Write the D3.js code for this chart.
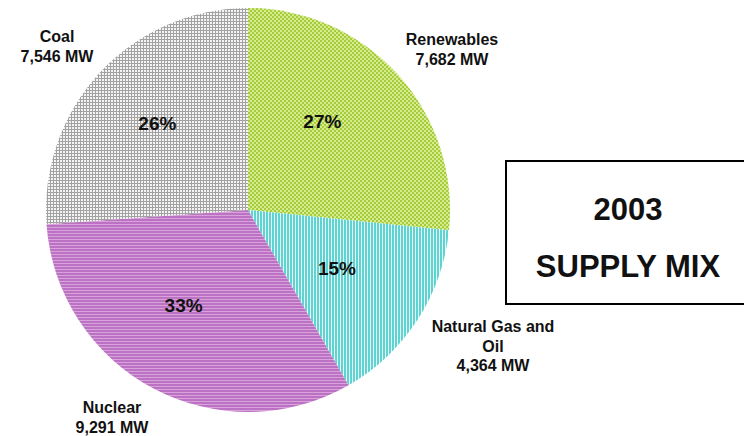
<!DOCTYPE html>
<html>
<head>
<meta charset="utf-8">
<script src="https://cdn.jsdelivr.net/npm/d3@7"></script>
<style>
  body { margin: 0; background: #fff; }
  svg text { font-family: Arial, "Liberation Sans", sans-serif; font-weight: bold; fill: #111; }
</style>
</head>
<body>
<div id="chart"></div>
<script>
// data
const categories = ["Renewables", "Natural Gas and Oil", "Nuclear", "Coal"];
const capacityMW = [7682, 4364, 9291, 7546];
const percentLabels = ["27%", "15%", "33%", "26%"];
const nameLines = [["Renewables"], ["Natural Gas and", "Oil"], ["Nuclear"], ["Coal"]];
const titleLines = ["2003", "SUPPLY MIX"];

const width = 744, height = 436;
const cx = 248, cy = 210, radius = 202;

// where the outside name labels sit (centre x, first baseline)
const outerLabelPos = [[452, 45], [493, 332], [112, 413], [57, 42]];
// small nudges for the percent labels (angle offset in degrees, radius)
const pctLayout = [[-8, 116], [0, 106], [6, 115], [1, 126]];

const svg = d3.select("#chart").append("svg")
    .attr("width", width)
    .attr("height", height);

const defs = svg.append("defs");

// coal: grey grid
const pCoal = defs.append("pattern").attr("id", "pat0").attr("patternUnits", "userSpaceOnUse")
    .attr("width", 3).attr("height", 3);
pCoal.append("rect").attr("width", 3).attr("height", 3).attr("fill", "#f4f4f4");
pCoal.append("rect").attr("width", 3).attr("height", 1).attr("fill", "#a2a2a2");
pCoal.append("rect").attr("width", 1).attr("height", 3).attr("fill", "#a2a2a2");

// renewables: green with light dots
const pRen = defs.append("pattern").attr("id", "pat1").attr("patternUnits", "userSpaceOnUse")
    .attr("width", 4).attr("height", 4);
pRen.append("rect").attr("width", 4).attr("height", 4).attr("fill", "#a4cc3c");
pRen.append("rect").attr("x", 0).attr("y", 0).attr("width", 2).attr("height", 2).attr("fill", "#d6ec8e");
pRen.append("rect").attr("x", 2).attr("y", 2).attr("width", 2).attr("height", 2).attr("fill", "#d6ec8e");

// gas: vertical cyan stripes
const pGas = defs.append("pattern").attr("id", "pat2").attr("patternUnits", "userSpaceOnUse")
    .attr("width", 3).attr("height", 3);
pGas.append("rect").attr("width", 3).attr("height", 3).attr("fill", "#e6fafa");
pGas.append("rect").attr("width", 2).attr("height", 3).attr("fill", "#5fd2d2");

// nuclear: horizontal purple stripes
const pNuc = defs.append("pattern").attr("id", "pat3").attr("patternUnits", "userSpaceOnUse")
    .attr("width", 3).attr("height", 3);
pNuc.append("rect").attr("width", 3).attr("height", 3).attr("fill", "#d9a2dc");
pNuc.append("rect").attr("width", 3).attr("height", 2).attr("fill", "#bc72c2");

const fills = ["url(#pat1)", "url(#pat2)", "url(#pat3)", "url(#pat0)"];

const pie = d3.pie().sort(null).value(d => d);
const arcs = pie(capacityMW);
const arc = d3.arc().innerRadius(0).outerRadius(radius);

const g = svg.append("g").attr("transform", `translate(${cx},${cy})`);

g.selectAll("path.slice")
    .data(arcs)
    .enter().append("path")
    .attr("class", "slice")
    .attr("d", arc)
    .attr("fill", (d, i) => fills[i]);

// percent labels
g.selectAll("text.pct")
    .data(arcs)
    .enter().append("text")
    .attr("class", "pct")
    .attr("text-anchor", "middle")
    .attr("font-size", 19)
    .attr("x", (d, i) => {
        const a = (d.startAngle + d.endAngle) / 2 + pctLayout[i][0] * Math.PI / 180;
        return Math.sin(a) * pctLayout[i][1];
    })
    .attr("y", (d, i) => {
        const a = (d.startAngle + d.endAngle) / 2 + pctLayout[i][0] * Math.PI / 180;
        return -Math.cos(a) * pctLayout[i][1] + 7;
    })
    .text((d, i) => percentLabels[i]);

// outside name + MW labels
categories.forEach((c, i) => {
    const lines = nameLines[i].concat([d3.format(",")(capacityMW[i]) + " MW"]);
    const t = svg.append("text")
        .attr("text-anchor", "middle")
        .attr("font-size", 16)
        .attr("x", outerLabelPos[i][0])
        .attr("y", outerLabelPos[i][1]);
    lines.forEach((l, j) => {
        t.append("tspan")
            .attr("x", outerLabelPos[i][0])
            .attr("dy", j === 0 ? 0 : 19.5)
            .text(l);
    });
});

// title box
svg.append("rect")
    .attr("x", 506).attr("y", 161)
    .attr("width", 250).attr("height", 143)
    .attr("fill", "none")
    .attr("stroke", "#000")
    .attr("stroke-width", 2);

svg.selectAll("text.title")
    .data(titleLines)
    .enter().append("text")
    .attr("class", "title")
    .attr("text-anchor", "middle")
    .attr("font-size", 31)
    .attr("x", 628)
    .attr("y", (d, i) => 220 + i * 57)
    .text(d => d);
</script>
</body>
</html>
